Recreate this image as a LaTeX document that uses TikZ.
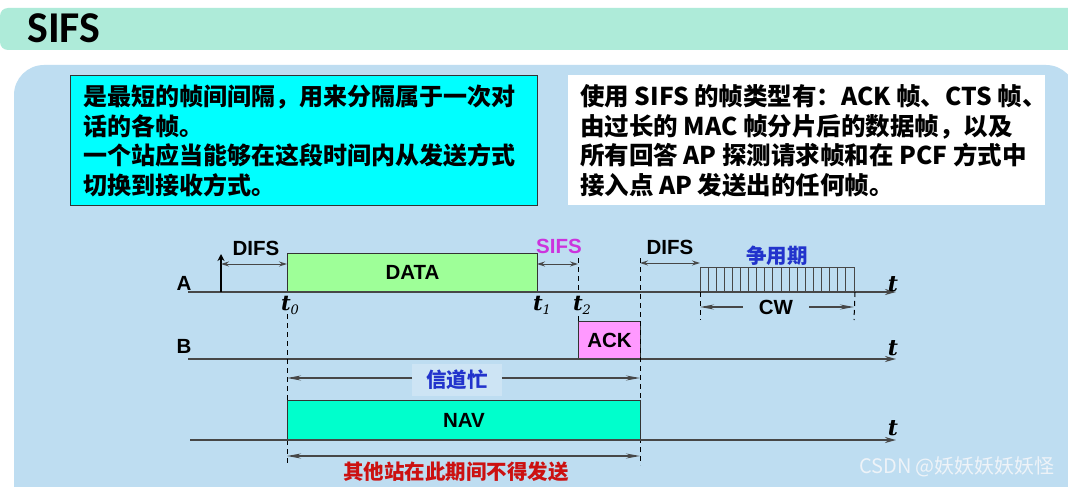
\documentclass[tikz,border=0pt]{standalone}
\usepackage{fontspec}
\setmainfont{Liberation Sans}
\newfontfamily\cjk{Noto Sans CJK SC}
\newfontfamily\titlefont{Carlito}
\newfontfamily\tfont{DejaVu Serif}
\usetikzlibrary{arrows.meta,calc}
\definecolor{titlebar}{HTML}{AEEBD9}
\definecolor{panel}{HTML}{BEDDF1}
\definecolor{panellight}{HTML}{CDE4F4}
\definecolor{lcyan}{HTML}{00FFFF}
\definecolor{datagreen}{HTML}{9EFF98}
\definecolor{ackpink}{HTML}{FF99FF}
\definecolor{navaqua}{HTML}{00FFCC}
\definecolor{axisgray}{HTML}{474747}
\definecolor{sifsmag}{HTML}{CC33DD}
\definecolor{zhblue}{HTML}{2233CC}
\definecolor{zhred}{HTML}{CC1111}
\definecolor{wm}{HTML}{EEF3F8}
\tikzset{
  axis/.style={draw=axisgray, line width=1.8pt, -{Stealth[length=11pt,width=6pt]}},
  dimarrow/.style={draw=axisgray, line width=1pt, {Stealth[length=8pt,width=5pt]}-{Stealth[length=8pt,width=5pt]}},
  longtip/.style={draw=axisgray, line width=1.2pt, -{Stealth[length=14pt,width=5pt]}},
  bothlong/.style={draw=axisgray, line width=1.2pt, {Stealth[length=14pt,width=5pt]}-{Stealth[length=14pt,width=5pt]}},
  dashln/.style={draw=black, line width=1pt, dash pattern=on 5pt off 4pt},
  frame/.style={draw=black!80, line width=1pt, inner sep=0pt},
  lblfont/.style={font=\bfseries\fontsize{20.5}{20.5}\selectfont},
  lbl/.style={lblfont, inner sep=0pt},
  zh/.style={font=\cjk\bfseries\fontsize{20.5}{20.5}\selectfont, inner sep=0pt},
  tlab/.style={font=\tfont\bfseries\itshape\fontsize{22}{22}\selectfont, inner sep=0pt},
  boxtext/.style={font=\cjk\bfseries\fontsize{24}{29.5}\selectfont, align=left, inner sep=0pt, anchor=west},
}
\newcommand{\tsub}[1]{{\tfont\bfseries\itshape t}\raisebox{-4pt}{\tfont\itshape\fontsize{13}{13}\selectfont #1}}
\begin{document}
\begin{tikzpicture}[x=1pt,y=-1pt]
\useasboundingbox (0,0) rectangle (1068,487);
\fill[white] (0,0) rectangle (1068,487);
% title bar
\fill[titlebar, rounded corners=8pt] (0,8) rectangle (1090,50);
\node[anchor=west, font=\titlefont\bfseries\fontsize{44}{44}\selectfont, inner sep=0pt] (title) at (27,28) {SIFS};
% panel
\fill[panel, rounded corners=30pt] (14,65) rectangle (1076,540);
% text boxes
\node[frame, fill=lcyan, minimum width=467pt, minimum height=130pt, anchor=north west] (lbox) at (70,75) {};
\node[boxtext] (ltext) at (83,141) {是最短的帧间间隔，用来分隔属于一次对\\话的各帧。\\一个站应当能够在这段时间内从发送方式\\切换到接收方式。};
\node[fill=white, minimum width=477pt, minimum height=130pt, anchor=north west, inner sep=0pt] (rbox) at (568,75) {};
\node[boxtext, font=\cjk\bfseries\fontsize{24.5}{29.5}\selectfont] (rtext) at (580,141) {使用 SIFS 的帧类型有：ACK 帧、CTS 帧、\\由过长的 MAC 帧分片后的数据帧，以及\\所有回答 AP 探测请求帧和在 PCF 方式中\\接入点 AP 发送出的任何帧。};
% line A
\coordinate (A0) at (188,292);
\coordinate (A1) at (896,292);
\node[lbl] (Alab) at (184,283) {A};
\node[frame, fill=datagreen, minimum width=250pt, minimum height=38pt, anchor=south west, lblfont] (data) at (287,292) {DATA};
\node[frame, draw=axisgray, minimum width=154pt, minimum height=24pt, anchor=south west] (cw) at (700,292) {};
\foreach \i in {1,...,18} \draw[axisgray, line width=1pt] ($(cw.south west)+(\i*154/19,0)$) -- ++(0,-24);
\draw[axis] (A0) -- (A1);
\node[tlab] (tA) at (893,284) {t};
% vertical start arrow
\coordinate (up0) at (221,292);
\coordinate (up1) at (221,254);
\draw[draw=black, line width=2.4pt, -{Stealth[length=7pt,width=7pt]}] (up0) -- (up1);
% DIFS 1
\coordinate (d1l) at (221,264);
\coordinate (d1r) at (287,264);
\draw[dimarrow] (d1l) -- (d1r);
\node[lbl] (difs1) at (256,248) {DIFS};
% SIFS
\coordinate (s1l) at (537,264);
\coordinate (s1r) at (578,264);
\draw[dimarrow] (s1l) -- (s1r);
\node[lbl, text=sifsmag] (sifs) at (559,246) {SIFS};
% t labels
\node[anchor=north, inner sep=0pt, font=\fontsize{21}{21}\selectfont] (t0) at (290,296) {\tsub{0}};
\node[anchor=north, inner sep=0pt, font=\fontsize{21}{21}\selectfont] (t1) at (542,296) {\tsub{1}};
\node[anchor=north, inner sep=0pt, font=\fontsize{21}{21}\selectfont] (t2) at (582,296) {\tsub{2}};
% line B
\coordinate (B0) at (188,359);
\coordinate (B1) at (896,359);
\node[lbl] (Blab) at (184,346) {B};
\node[frame, fill=ackpink, minimum width=62pt, minimum height=37pt, anchor=south west, lblfont] (ack) at (578,359) {ACK};
\draw[axis] (B0) -- (B1);
\node[tlab] (tB) at (893,348) {t};
% DIFS 2
\coordinate (d2l) at (640,263);
\coordinate (d2r) at (700,263);
\draw[dimarrow] (d2l) -- (d2r);
\node[lbl] (difs2) at (670,247) {DIFS};
\node[zh, text=zhblue] (zy) at (777,256) {争用期};
% dashed lines
\coordinate (ds2top) at (578,258);
\coordinate (ds2mid) at (578,290);
\coordinate (ds2low) at (578,316);
\draw[dashln] (ds2top) -- (ds2mid);
\draw[dashln] (ds2low) -- (ack.north west);
\coordinate (ds3top) at (640,258);
\coordinate (ds3bot) at (640,465);
\draw[dashln] (ds3top) -- (ds3bot);
\coordinate (ds0top) at (287,314);
\coordinate (ds0bot) at (287,466);
\draw[dashln] (ds0top) -- (ds0bot);
\coordinate (dcw1) at (700,320);
\coordinate (dcw2) at (854,320);
\draw[dashln] (cw.south west) -- (dcw1);
\draw[dashln] (cw.south east) -- (dcw2);
% CW arrow
\node[lbl, fill=panel, inner xsep=16pt, inner ysep=3pt] (cwlab) at (776,307) {CW};
\coordinate (cwL) at (700,307);
\coordinate (cwR) at (854,307);
\draw[longtip] (cwlab.west) -- (cwL);
\draw[longtip] (cwlab.east) -- (cwR);
% busy arrow
\node[zh, text=zhblue, fill=panellight, inner xsep=14pt, inner ysep=6pt] (busy) at (457,380) {信道忙};
\coordinate (bL) at (287,378);
\coordinate (bR) at (640,378);
\draw[longtip] (busy.west |- bL) -- (bL);
\draw[longtip] (busy.east |- bR) -- (bR);
% NAV line
\coordinate (N0) at (190,440);
\coordinate (N1) at (896,440);
\node[frame, fill=navaqua, minimum width=353pt, minimum height=39pt, anchor=south west, lblfont] (nav) at (287,440) {NAV};
\draw[axis] (N0) -- (N1);
\node[tlab] (tN) at (893,428) {t};
% bottom arrow
\coordinate (eL) at (287,456);
\coordinate (eR) at (640,456);
\draw[bothlong] (eL) -- (eR);
\node[zh, text=zhred] (other) at (456,472) {其他站在此期间不得发送};
% watermark
\node[font=\cjk\fontsize{20}{20}\selectfont, text=wm, inner sep=0pt] (wmark) at (957,467) {CSDN @妖妖妖妖妖怪};
\end{tikzpicture}
\end{document}
